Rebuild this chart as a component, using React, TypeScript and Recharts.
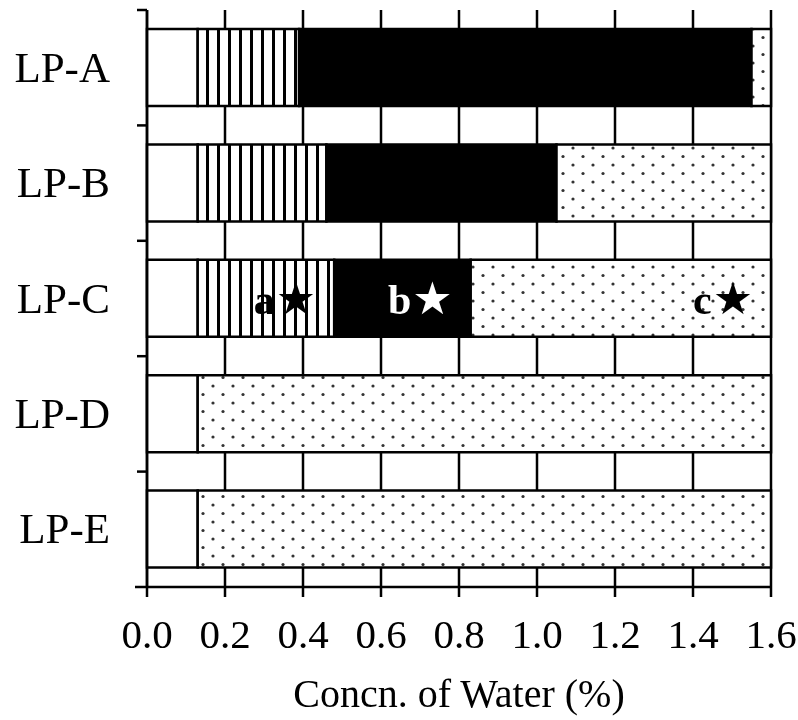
import { Bar, BarChart, CartesianGrid, LabelList, XAxis, YAxis } from "recharts";

const categories = ["LP-A", "LP-B", "LP-C", "LP-D", "LP-E"];
const blankPart = [0.13, 0.13, 0.13, 0.13, 0.13];
const stripedPart = [0.26, 0.33, 0.35, 0, 0];
const solidPart = [1.16, 0.59, 0.35, 0, 0];
const dottedPart = [0.05, 0.55, 0.77, 1.47, 1.47];
const xTicks = [0, 0.2, 0.4, 0.6, 0.8, 1.0, 1.2, 1.4, 1.6];

// star markers, only LP-C carries them
const stripedMark = ["", "", "a", "", ""];
const solidMark = ["", "", "b", "", ""];
const dottedMark = ["", "", "c", "", ""];

const data = categories.map((name, i) => ({
  name,
  blank: blankPart[i],
  striped: stripedPart[i],
  solid: solidPart[i],
  dotted: dottedPart[i],
  stripedMark: stripedMark[i],
  solidMark: solidMark[i],
  dottedMark: dottedMark[i],
}));

const SERIF = "'Liberation Serif', 'Times New Roman', serif";
const W = 790;
const H = 712;
const MARGIN = { top: 2, right: 27, bottom: 0, left: 0 };
const X_AXIS_H = 133;
const BAND = (H - MARGIN.top - MARGIN.bottom - X_AXIS_H) / categories.length;
const LINE = 2.5;

function CategoryTick(props: any) {
  const { x, y, payload, index } = props;
  const half = BAND / 2;
  return (
    <g>
      <line x1={x - 10} x2={x} y1={y - half} y2={y - half} stroke="#000" strokeWidth={LINE} />
      {index === categories.length - 1 && (
        <line x1={x - 12} x2={x} y1={y + half} y2={y + half} stroke="#000" strokeWidth={LINE} />
      )}
      <text x={x - 37} y={y + 14} textAnchor="end" fontSize={43} fontFamily={SERIF} fill="#000">
        {payload.value}
      </text>
    </g>
  );
}

function starMark(color: string) {
  return (props: any) => {
    const { x, y, width, height, value } = props;
    if (!value) return null;
    return (
      <text
        x={x + width - 18}
        y={y + height / 2 + 16}
        textAnchor="end"
        fontSize={42}
        fontWeight="bold"
        fontFamily={SERIF}
        fill={color}
      >
        {value}
        <tspan dx={1} fontFamily="'DejaVu Sans', sans-serif" fontSize={45}>
          ★
        </tspan>
      </text>
    );
  };
}

export default function App() {
  return (
    <div style={{ position: "fixed", left: 8, top: 8 }}>
      <BarChart width={W} height={H} data={data} layout="vertical" margin={MARGIN}>
        <defs>
          <pattern id="stripes" width={11} height={10} patternUnits="userSpaceOnUse">
            <rect width={11} height={10} fill="#fff" />
            <rect x={0} width={3} height={10} fill="#000" />
          </pattern>
          <pattern id="dots" width={20} height={17} patternUnits="userSpaceOnUse">
            <rect width={20} height={17} fill="#fff" />
            <circle cx={5} cy={4} r={1.6} fill="#333" />
            <circle cx={15} cy={12.5} r={1.6} fill="#333" />
          </pattern>
        </defs>
        <CartesianGrid horizontal={false} stroke="#000" strokeWidth={LINE} />
        <XAxis
          type="number"
          domain={[0, 1.6]}
          ticks={xTicks}
          interval={0}
          tickFormatter={(v: number) => v.toFixed(1)}
          height={X_AXIS_H}
          axisLine={{ stroke: "#000", strokeWidth: LINE }}
          tickLine={{ stroke: "#000", strokeWidth: LINE }}
          tickSize={10}
          tickMargin={22}
          tick={{ fontSize: 41, fill: "#000", fontFamily: SERIF }}
          label={{
            value: "Concn. of Water (%)",
            position: "insideBottom",
            offset: 13,
            style: { fontSize: 40, fill: "#000", fontFamily: SERIF },
          }}
        />
        <YAxis
          type="category"
          dataKey="name"
          width={139}
          axisLine={{ stroke: "#000", strokeWidth: LINE }}
          tickLine={false}
          tickSize={0}
          tickMargin={0}
          tick={<CategoryTick />}
          interval={0}
        />
        <Bar dataKey="blank" stackId="a" barSize={77} fill="#fff" stroke="#000" strokeWidth={LINE} isAnimationActive={false} />
        <Bar dataKey="striped" stackId="a" barSize={77} fill="url(#stripes)" stroke="#000" strokeWidth={LINE} isAnimationActive={false}>
          <LabelList dataKey="stripedMark" content={starMark("#000")} />
        </Bar>
        <Bar dataKey="solid" stackId="a" barSize={77} fill="#000" stroke="#000" strokeWidth={LINE} isAnimationActive={false}>
          <LabelList dataKey="solidMark" content={starMark("#fff")} />
        </Bar>
        <Bar dataKey="dotted" stackId="a" barSize={77} fill="url(#dots)" stroke="#000" strokeWidth={LINE} isAnimationActive={false}>
          <LabelList dataKey="dottedMark" content={starMark("#000")} />
        </Bar>
      </BarChart>
    </div>
  );
}
